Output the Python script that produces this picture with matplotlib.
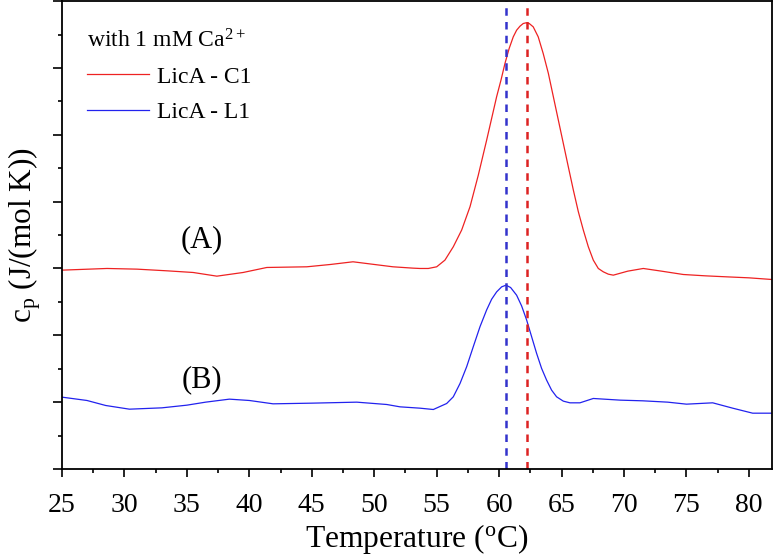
import matplotlib
matplotlib.use("Agg")
import matplotlib.pyplot as plt
from matplotlib.ticker import MultipleLocator, NullFormatter

plt.rcParams['font.family'] = ['Liberation Serif', 'DejaVu Serif']
plt.rcParams['mathtext.fontset'] = 'custom'
plt.rcParams['mathtext.rm'] = 'Liberation Serif'
plt.rcParams['mathtext.it'] = 'Liberation Serif:italic'

# Data
temp_A = [25.0, 28.6, 31.0, 33.4, 35.5, 37.4, 39.5, 41.4, 44.6, 46.5, 48.3, 50.0, 51.5,
          53.1, 53.66, 54.33, 55.0, 55.66, 56.33, 57.0, 57.67, 58.33, 59.0, 59.4, 59.8,
          60.15, 60.47, 60.8, 61.13, 61.4, 61.67, 61.93, 62.15, 62.41, 62.73, 63.13,
          63.53, 63.94, 64.34, 64.74, 65.14, 65.54, 65.94, 66.34, 66.74, 67.14, 67.54,
          67.94, 68.34, 68.74, 69.14, 70.3, 71.54, 73.0, 74.74, 76.5, 78.2, 80.0, 81.85]
cp_A = [5.95, 6.00, 5.98, 5.93, 5.88, 5.77, 5.88, 6.03, 6.05, 6.12, 6.20, 6.12, 6.05,
        6.01, 6.00, 6.00, 6.05, 6.25, 6.65, 7.15, 7.85, 8.79, 9.84, 10.49, 11.14,
        11.64, 12.14, 12.58, 12.93, 13.13, 13.25, 13.33, 13.35, 13.33, 13.23, 12.93,
        12.43, 11.84, 11.14, 10.44, 9.74, 9.04, 8.35, 7.70, 7.15, 6.65, 6.25,
        6.00, 5.90, 5.83, 5.80, 5.92, 6.00, 5.92, 5.82, 5.78, 5.75, 5.72, 5.67]

temp_B = [25.0, 27.0, 28.5, 30.4, 33.0, 35.0, 36.5, 38.4, 40.0, 41.9, 45.0, 48.6, 51.0,
          52.06, 53.66, 54.73, 55.8, 56.33, 56.87, 57.4, 57.93, 58.47, 59.0, 59.4,
          59.8, 60.2, 60.55, 60.92, 61.4, 61.8, 62.2, 62.6, 63.0, 63.4, 63.8, 64.2,
          64.6, 65.14, 65.67, 66.47, 67.54, 69.7, 71.5, 73.5, 75.0, 77.1, 78.7, 80.3, 81.85]
cp_B = [2.15, 2.05, 1.90, 1.79, 1.83, 1.91, 2.00, 2.09, 2.05, 1.95, 1.97, 2.00, 1.93,
        1.86, 1.82, 1.78, 1.96, 2.16, 2.56, 3.06, 3.66, 4.26, 4.76, 5.08,
        5.30, 5.45, 5.50, 5.43, 5.20, 4.88, 4.46, 3.96, 3.46, 3.01, 2.66, 2.36,
        2.16, 2.03, 1.98, 1.98, 2.11, 2.06, 2.04, 2.00, 1.94, 1.98, 1.82, 1.67, 1.67]

tm_A = 62.24
tm_B = 60.55

fig = plt.figure(figsize=(7.77, 5.57), dpi=100)
ax = fig.add_axes([0.0798, 0.158, 0.9138, 0.840])

ax.plot(temp_A, cp_A, color='#ee2222', lw=0.9, label='LicA - C1')
ax.plot(temp_B, cp_B, color='#2222ee', lw=0.9, label='LicA - L1')
ax.axvline(tm_B, color='#3333cc', lw=1.8, ls=(0, (3.0, 2.5)))
ax.axvline(tm_A, color='#dd2222', lw=1.8, ls=(0, (3.0, 2.5)))

ax.set_xlim(25, 81.85)
ax.set_ylim(0, 14)
ax.xaxis.set_major_locator(MultipleLocator(5))
ax.xaxis.set_minor_locator(MultipleLocator(2.5))
ax.yaxis.set_major_locator(MultipleLocator(2))
ax.yaxis.set_minor_locator(MultipleLocator(1))
ax.yaxis.set_major_formatter(NullFormatter())
ax.tick_params(axis='x', which='major', direction='out', length=6, width=1.2,
               labelsize=20, pad=11.5)
ax.tick_params(axis='x', which='minor', direction='out', length=3, width=1.2)
ax.tick_params(axis='y', which='major', direction='out', length=6.5, width=1.2)
ax.tick_params(axis='y', which='minor', direction='out', length=3, width=1.2)
for s in ax.spines.values():
    s.set_linewidth(1.3)

ax.set_xlabel('Temperature ($^{\\mathrm{o}}$C)', fontsize=22.7, labelpad=3)
ax.set_ylabel('c$_{\\mathrm{p}}$ (J/(mol K))', fontsize=22.5, labelpad=4)

ax.text(36.2, 6.85, '(A)', fontsize=22, ha='center', va='center')
ax.text(36.2, 2.66, '(B)', fontsize=22, ha='center', va='center')

leg = ax.legend(title='with 1 mM Ca$^{2+}$', loc='upper left', frameon=False,
                fontsize=17, title_fontsize=17, alignment='left',
                handlelength=2.63, handletextpad=0.34, labelspacing=0.58,
                borderaxespad=0.3, bbox_to_anchor=(0.0115, 0.975))

fig.savefig('out.png', dpi=100)
